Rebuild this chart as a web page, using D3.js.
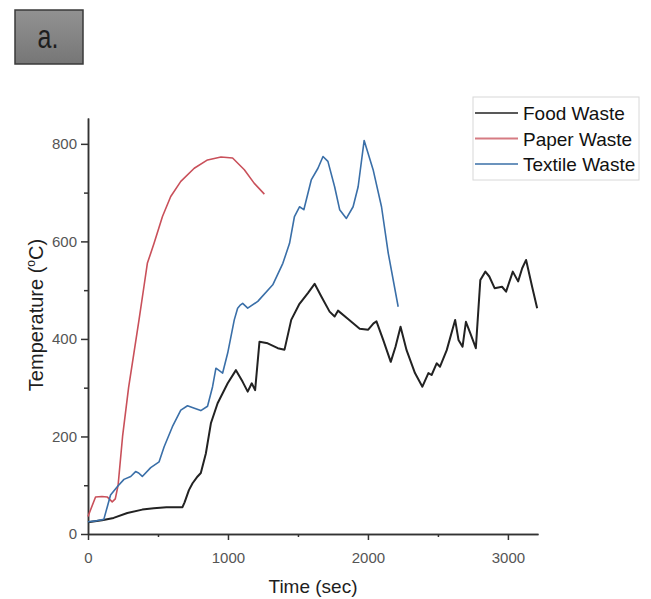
<html>

<head>
    <title>Temperature</title>
    <script src='https://d3js.org/d3.v7.min.js'></script>
    <style>
        body { margin: 0; background: #fff; }
        text { font-family: "Liberation Sans", Arial, sans-serif; }
        .axis path, .axis line { stroke: #333; stroke-width: 1.5; }
        .axis text { fill: #555; font-size: 15px; }
        .trace { fill: none; stroke-linejoin: round; }
    </style>
</head>

<body>
    <svg id="chart"></svg>
    <script>
        var seriesNames = ["Food Waste", "Paper Waste", "Textile Waste"];
        var seriesColors = ["#222222", "#c9505a", "#3a6fa8"];

        var foodTime = [0, 100, 183, 281, 388, 470, 560, 675, 690, 721, 747, 783, 806, 842, 878, 926, 998, 1057, 1105, 1141,
            1170, 1194, 1225, 1284, 1356, 1404, 1452, 1511, 1571, 1619, 1667, 1726, 1762, 1786, 1858, 1941, 2002, 2040, 2061, 2109,
            2163, 2197, 2233, 2276, 2336, 2389, 2432, 2455, 2491, 2515, 2563, 2623, 2647, 2676, 2700, 2731, 2771, 2803, 2839, 2867,
            2905, 2958, 2987, 3035, 3073, 3102, 3130, 3173, 3209];
        var foodTemp = [24, 28, 33, 43, 50, 53, 55, 55, 65, 90, 104, 118, 125, 165, 227, 268, 309, 336, 312, 292,
            309, 295, 394, 391, 381, 378, 439, 472, 494, 513, 487, 456, 446, 458, 441, 421, 419, 432, 436, 398,
            353, 384, 425, 377, 330, 302, 330, 326, 350, 343, 377, 439, 398, 384, 435, 412, 381, 521, 538, 528,
            504, 507, 497, 538, 518, 545, 562, 507, 463];

        var paperTime = [0, 54, 100, 137, 173, 195, 215, 247, 290, 328, 365, 400, 424, 472, 532, 591, 663, 759, 854, 950, 1033, 1117, 1188, 1260];
        var paperTemp = [36, 76, 77, 76, 66, 72, 100, 200, 300, 371, 440, 508, 555, 596, 651, 692, 723, 750, 767, 773, 771, 747, 719, 697];

        var textileTime = [0, 60, 113, 137, 161, 209, 257, 305, 340, 362, 388, 448, 508, 544, 603, 663, 711, 760, 806, 854,
            890, 914, 938, 962, 998, 1045, 1069, 1090, 1105, 1141, 1213, 1320, 1392, 1440, 1475, 1511, 1542, 1595, 1643, 1679,
            1714, 1762, 1798, 1846, 1894, 1930, 1973, 2037, 2097, 2145, 2216];
        var textileTemp = [25, 27, 30, 55, 80, 97, 112, 118, 128, 125, 118, 136, 148, 179, 220, 254, 263, 258, 253, 262,
            302, 340, 335, 330, 371, 439, 463, 470, 473, 463, 477, 511, 555, 596, 651, 671, 665, 726, 750, 774,
            764, 712, 665, 647, 671, 712, 807, 747, 671, 576, 466];

        var xTicks = [0, 1000, 2000, 3000];
        var xMinor = [500, 1500, 2500];
        var yTicks = [0, 200, 400, 600, 800];
        var yMinor = [100, 300, 500, 700];

        var width = 651, height = 599;
        var plotLeft = 88, plotRight = 538, plotTop = 118, plotBottom = 534;

        var x = d3.scaleLinear().domain([0, 3215]).range([plotLeft, plotRight]);
        var y = d3.scaleLinear().domain([0, 853]).range([plotBottom, plotTop]);

        var svg = d3.select("#chart").attr("width", width).attr("height", height);

        // panel label box
        var grad = svg.append("defs").append("linearGradient").attr("id", "box")
            .attr("x1", 0).attr("y1", 0).attr("x2", 0).attr("y2", 1);
        grad.append("stop").attr("offset", "0%").attr("stop-color", "#929292");
        grad.append("stop").attr("offset", "100%").attr("stop-color", "#767676");
        svg.append("rect").attr("x", 15).attr("y", 10).attr("width", 68).attr("height", 54)
            .attr("fill", "url(#box)").attr("stroke", "#3a3a3a").attr("stroke-width", 1.5);
        svg.append("text").attr("transform", "translate(48,48) scale(1,1.3)")
            .attr("text-anchor", "middle").attr("font-size", 25).attr("fill", "#1e1e1e").text("a.");

        // axes
        svg.append("g").attr("class", "axis")
            .attr("transform", "translate(0," + plotBottom + ")")
            .call(d3.axisBottom(x).tickValues(xMinor).tickSize(3).tickSizeOuter(0).tickFormat(""));
        svg.append("g").attr("class", "axis")
            .attr("transform", "translate(0," + plotBottom + ")")
            .call(d3.axisBottom(x).tickValues(xTicks).tickSize(6).tickSizeOuter(0).tickPadding(12).tickFormat(d3.format("d")));
        svg.append("g").attr("class", "axis")
            .attr("transform", "translate(" + plotLeft + ",0)")
            .call(d3.axisLeft(y).tickValues(yMinor).tickSize(4).tickSizeOuter(0).tickFormat(""));
        svg.append("g").attr("class", "axis")
            .attr("transform", "translate(" + plotLeft + ",0)")
            .call(d3.axisLeft(y).tickValues(yTicks).tickSize(7).tickSizeOuter(0).tickPadding(4).tickFormat(d3.format("d")));

        svg.append("text").attr("x", 313).attr("y", 593).attr("text-anchor", "middle")
            .attr("font-size", 19).attr("fill", "#1e1e1e").text("Time (sec)");
        var yl = svg.append("text").attr("transform", "translate(43,315) rotate(-90)")
            .attr("text-anchor", "middle").attr("font-size", 20).attr("fill", "#1e1e1e");
        yl.append("tspan").text("Temperature (");
        yl.append("tspan").attr("font-size", 12).attr("dy", -8).text("o");
        yl.append("tspan").attr("dy", 8).text("C)");

        // traces
        var line = d3.line().x(function (d) { return x(d[0]); }).y(function (d) { return y(d[1]); });
        var traces = [
            d3.zip(foodTime, foodTemp),
            d3.zip(paperTime, paperTemp),
            d3.zip(textileTime, textileTemp)
        ];
        svg.selectAll(".trace")
            .data(traces)
            .enter()
            .append("path")
            .attr("class", "trace")
            .attr("d", line)
            .attr("stroke", function (d, i) { return seriesColors[i]; })
            .attr("stroke-width", function (d, i) { return i == 0 ? 2 : 1.6; });

        // legend
        svg.append("rect").attr("x", 473).attr("y", 97).attr("width", 166).attr("height", 83)
            .attr("fill", "#fff").attr("stroke", "#d8d8d8");
        var leg = svg.selectAll(".leg")
            .data(seriesNames)
            .enter()
            .append("g")
            .attr("class", "leg")
            .attr("transform", function (d, i) { return "translate(475," + (113 + i * 25.5) + ")"; });
        leg.append("line").attr("x1", 0).attr("x2", 43)
            .attr("stroke", function (d, i) { return seriesColors[i]; })
            .attr("stroke-width", 2.2).attr("opacity", 0.75);
        leg.append("text").attr("x", 48).attr("y", 7).attr("font-size", 19).attr("fill", "#111")
            .text(function (d) { return d; });
    </script>
</body>

</html>
